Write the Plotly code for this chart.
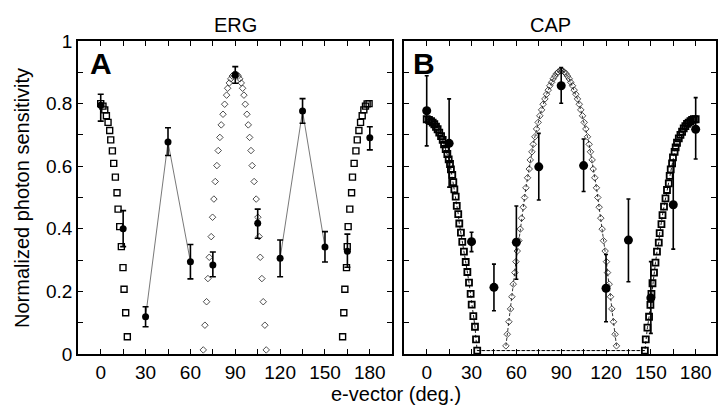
import plotly.graph_objects as go

# ---------------- Panel A (ERG) ----------------
angles = [0, 15, 30, 45, 60, 75, 90, 105, 120, 135, 150, 165, 180]
erg_mean = [0.795, 0.400, 0.119, 0.677, 0.295, 0.284, 0.891, 0.418, 0.306, 0.776, 0.342, 0.328, 0.691]
erg_err_up = [0.035, 0.058, 0.032, 0.046, 0.055, 0.042, 0.027, 0.045, 0.058, 0.040, 0.049, 0.055, 0.035]
erg_err_dn = [0.051, 0.057, 0.032, 0.043, 0.055, 0.037, 0.026, 0.048, 0.059, 0.039, 0.048, 0.051, 0.039]

erg_sq_left_x = [0, 1.5, 2.7, 3.8, 4.9, 6.0, 6.7, 7.8, 8.7, 9.8, 10.9, 11.6, 12.7, 13.8, 14.9, 15.6, 16.7, 17.8]
erg_sq_left_y = [0.800, 0.792, 0.780, 0.761, 0.740, 0.714, 0.684, 0.649, 0.609, 0.565, 0.515, 0.463, 0.407, 0.343, 0.276, 0.207, 0.132, 0.055]
erg_sq_right_x = [161.8, 162.6, 163.3, 164.4, 164.9, 165.5, 166.6, 167.8, 168.4, 169.5, 170.7, 171.6, 172.7, 173.8, 174.9, 176.0, 177.1, 178.2, 179.5]
erg_sq_right_y = [0.055, 0.132, 0.207, 0.276, 0.343, 0.407, 0.463, 0.515, 0.565, 0.609, 0.649, 0.684, 0.714, 0.740, 0.761, 0.780, 0.792, 0.799, 0.800]

erg_dia_x = [68.6, 69.7, 70.8, 71.7, 72.6, 73.9, 74.8, 75.7, 76.6, 77.7, 78.6, 79.7, 80.6, 81.8, 82.9, 84.2, 84.9,
             86.0, 87.0, 88.0, 89.0, 90.0, 91.0, 92.0, 93.0, 94.0,
             94.9, 95.8, 96.7, 97.8, 98.7, 99.6, 100.5, 101.3, 102.6, 104.0, 105.1, 106.0, 106.7, 107.8, 108.7, 109.8, 110.7]
erg_dia_y = [0.013, 0.092, 0.167, 0.241, 0.309, 0.375, 0.437, 0.495, 0.551, 0.602, 0.650, 0.692, 0.732, 0.766, 0.798, 0.827, 0.849,
             0.866, 0.879, 0.888, 0.893, 0.895, 0.893, 0.888, 0.879, 0.866,
             0.849, 0.827, 0.798, 0.766, 0.732, 0.692, 0.650, 0.602, 0.551, 0.495, 0.437, 0.375, 0.309, 0.241, 0.167, 0.092, 0.013]

# ---------------- Panel B (CAP) ----------------
cap_mean = [0.777, 0.673, 0.359, 0.213, 0.357, 0.598, 0.857, 0.602, 0.210, 0.364, 0.179, 0.477, 0.718]
cap_err_up = [0.112, 0.142, 0.030, 0.074, 0.116, 0.107, 0.058, 0.085, 0.108, 0.131, 0.116, 0.142, 0.101]
cap_err_dn = [0.112, 0.140, 0.032, 0.075, 0.118, 0.106, 0.056, 0.083, 0.107, 0.133, 0.113, 0.142, 0.095]

cap_sq_x = [0, 1.5, 2.9, 4.0, 5.1, 6.2, 7.3, 8.4, 9.6, 10.7, 11.6, 12.7, 13.8, 14.7, 15.6, 16.2, 17.1, 17.8, 18.5, 19.4,
            20.1, 21.1, 21.8, 22.9, 23.8, 24.9, 26.1, 27.2, 28.3, 29.4, 30.1, 31.2, 32.3, 33.0, 33.8,
            146.0, 146.6, 147.7, 148.8, 149.7, 150.4, 151.1, 152.1, 153.1, 154.1, 155.3, 155.9, 157.1, 157.8, 158.8,
            159.8, 160.8, 162.0, 162.6, 163.3, 164.2, 164.8, 165.9, 166.6, 167.5, 168.7, 169.8, 170.9, 172.0, 173.1,
            174.2, 175.3, 176.5, 177.6, 178.8, 180.0]
cap_sq_y = [0.750, 0.748, 0.744, 0.739, 0.734, 0.726, 0.718, 0.707, 0.696, 0.684, 0.670, 0.655, 0.639, 0.622, 0.607, 0.590,
            0.572, 0.549, 0.526, 0.503, 0.473, 0.447, 0.417, 0.388, 0.358, 0.327, 0.294, 0.262, 0.228, 0.192, 0.158,
            0.121, 0.087, 0.047, 0.011,
            0.011, 0.047, 0.084, 0.119, 0.157, 0.192, 0.226, 0.260, 0.292, 0.327, 0.356, 0.386, 0.415, 0.444, 0.471,
            0.497, 0.524, 0.545, 0.569, 0.590, 0.609, 0.628, 0.646, 0.660, 0.675, 0.689, 0.700, 0.710, 0.721, 0.728,
            0.735, 0.739, 0.744, 0.748, 0.750, 0.750]

cap_dia_x = [53.0, 53.9, 55.0, 56.1, 57.0, 57.9, 59.0, 59.7, 60.6, 61.7, 62.6, 63.5, 64.6, 65.5, 66.4, 67.5, 68.6, 69.3,
             70.4, 71.3, 72.4, 73.5, 74.6, 75.7, 76.9, 77.9, 79.1, 80.2, 81.3, 82.4, 83.6, 84.6, 85.8, 86.9, 88.0, 89.1,
             90.0, 90.9, 92.0, 93.1, 94.2, 95.4, 96.4, 97.6, 98.7, 99.8, 100.9, 102.1, 103.1, 104.3, 105.4, 106.5, 107.6,
             108.7, 109.6, 110.7, 111.4, 112.5, 113.6, 114.5, 115.4, 116.5, 117.4, 118.3, 119.4, 120.3, 121.0, 122.1,
             123.0, 123.9, 125.0, 126.1, 127.0]
cap_dia_y = [0.026, 0.063, 0.103, 0.144, 0.183, 0.223, 0.260, 0.295, 0.329, 0.362, 0.399, 0.434, 0.469, 0.500, 0.531,
             0.563, 0.591, 0.620, 0.646, 0.670, 0.694, 0.719, 0.740, 0.761, 0.780, 0.798, 0.815, 0.830, 0.843, 0.857,
             0.868, 0.879, 0.888, 0.896, 0.901, 0.905, 0.906, 0.905, 0.901, 0.896, 0.888, 0.879, 0.868, 0.857, 0.843,
             0.830, 0.815, 0.798, 0.780, 0.761, 0.740, 0.719, 0.694, 0.670, 0.646, 0.620, 0.591, 0.563, 0.531, 0.500,
             0.469, 0.434, 0.399, 0.362, 0.329, 0.295, 0.260, 0.223, 0.183, 0.144, 0.103, 0.063, 0.026]
cap_base_x = [33.8, 53.0, 127.0, 146.0]
cap_base_y = [0.011, 0.011, 0.011, 0.011]

x_tickvals = [0, 15, 30, 45, 60, 75, 90, 105, 120, 135, 150, 165, 180]
x_ticktext = ["0", "", "30", "", "60", "", "90", "", "120", "", "150", "", "180"]
y_tickvals = [0, 0.1, 0.2, 0.3, 0.4, 0.5, 0.6, 0.7, 0.8, 0.9, 1.0]
y_ticktext = ["0", "", "0.2", "", "0.4", "", "0.6", "", "0.8", "", "1"]

FONT = "Liberation Sans, Arial, Helvetica, sans-serif"
W, H = 718, 407
fig = go.Figure()

# ---- Panel A traces ----
fig.add_trace(go.Scatter(x=erg_dia_x, y=erg_dia_y, mode="markers", xaxis="x", yaxis="y",
                         marker=dict(symbol="diamond-open", size=5, color="#222", line=dict(width=0.8))))
fig.add_trace(go.Scatter(x=erg_sq_left_x + [None] + erg_sq_right_x, y=erg_sq_left_y + [None] + erg_sq_right_y,
                         mode="markers", xaxis="x", yaxis="y",
                         marker=dict(symbol="square-open", size=6, color="black", line=dict(width=1.4))))
seg_idx = [2, 3, 4, None, 8, 9, 10]
fig.add_trace(go.Scatter(x=[angles[i] if i is not None else None for i in seg_idx],
                         y=[erg_mean[i] if i is not None else None for i in seg_idx],
                         mode="lines", xaxis="x", yaxis="y", line=dict(color="#555", width=0.8)))
fig.add_trace(go.Scatter(x=angles, y=erg_mean, mode="markers", xaxis="x", yaxis="y",
                         marker=dict(symbol="circle", size=7, color="black"),
                         error_y=dict(type="data", symmetric=False, array=erg_err_up, arrayminus=erg_err_dn,
                                      color="black", thickness=1.6, width=3)))

# ---- Panel B traces ----
fig.add_trace(go.Scatter(x=cap_base_x, y=cap_base_y, mode="lines", xaxis="x2", yaxis="y2",
                         line=dict(color="black", width=0.9, dash="3px,2px")))
fig.add_trace(go.Scatter(x=cap_dia_x, y=cap_dia_y, mode="lines+markers", xaxis="x2", yaxis="y2",
                         line=dict(color="black", width=0.8, dash="3px,2px"),
                         marker=dict(symbol="diamond-open", size=5, color="#222", line=dict(width=0.8))))
fig.add_trace(go.Scatter(x=cap_sq_x, y=cap_sq_y, mode="lines+markers", xaxis="x2", yaxis="y2",
                         line=dict(color="black", width=0.9, dash="3px,2px"),
                         marker=dict(symbol="square-open", size=6, color="black", line=dict(width=1.8))))
fig.add_trace(go.Scatter(x=angles, y=cap_mean, mode="markers", xaxis="x2", yaxis="y2",
                         marker=dict(symbol="circle", size=9, color="black"),
                         error_y=dict(type="data", symmetric=False, array=cap_err_up, arrayminus=cap_err_dn,
                                      color="black", thickness=1.6, width=2)))

axis_common = dict(showline=True, linecolor="black", linewidth=1.5, mirror="ticks", ticks="inside",
                   ticklen=5, tickwidth=1.2, tickcolor="black", showgrid=False, zeroline=False,
                   automargin=False,
                   tickfont=dict(family=FONT, size=19, color="black"))

fig.update_layout(
    template="none",
    width=W, height=H, autosize=False,
    margin=dict(l=0, r=0, t=0, b=0, pad=0),
    paper_bgcolor="white", plot_bgcolor="white",
    showlegend=False,
    xaxis=dict(domain=[78 / W, 391.5 / W], range=[-15.2, 194.5], tickmode="array",
               tickvals=x_tickvals, ticktext=x_ticktext, anchor="y", **axis_common),
    yaxis=dict(domain=[1 - 354 / H, 1 - 41 / H], range=[0, 1], tickmode="array",
               tickvals=y_tickvals, ticktext=y_ticktext, anchor="x", **axis_common),
    xaxis2=dict(domain=[404 / W, 716 / W], range=[-15.2, 193.6], tickmode="array",
                tickvals=x_tickvals, ticktext=x_ticktext, anchor="y2", **axis_common),
    yaxis2=dict(domain=[1 - 354 / H, 1 - 41 / H], range=[0, 1], tickmode="array",
                tickvals=y_tickvals, ticktext=y_ticktext, anchor="x2", showticklabels=False,
                **axis_common),
)

ann = [
    dict(text="ERG", x=235, y=25, size=20, bold=False),
    dict(text="CAP", x=550, y=25, size=20, bold=False),
    dict(text="A", x=101, y=64, size=30, bold=True),
    dict(text="B", x=424, y=63, size=30, bold=True),
    dict(text="e-vector (deg.)", x=396, y=394, size=20, bold=False),
]
for a in ann:
    fig.add_annotation(text=("<b>%s</b>" % a["text"]) if a["bold"] else a["text"],
                       x=a["x"] / W, y=1 - a["y"] / H, xref="paper", yref="paper", showarrow=False,
                       xanchor="center", yanchor="middle",
                       font=dict(family=FONT, size=a["size"], color="black"))
fig.add_annotation(text="Normalized photon sensitivity", x=22 / W, y=1 - 198 / H, xref="paper", yref="paper",
                   showarrow=False, textangle=-90, xanchor="center", yanchor="middle",
                   font=dict(family=FONT, size=20, color="black"))

fig.write_html("out.html", config={"displayModeBar": False},
               post_script="document.body.style.margin='0';document.body.style.overflow='hidden';")
